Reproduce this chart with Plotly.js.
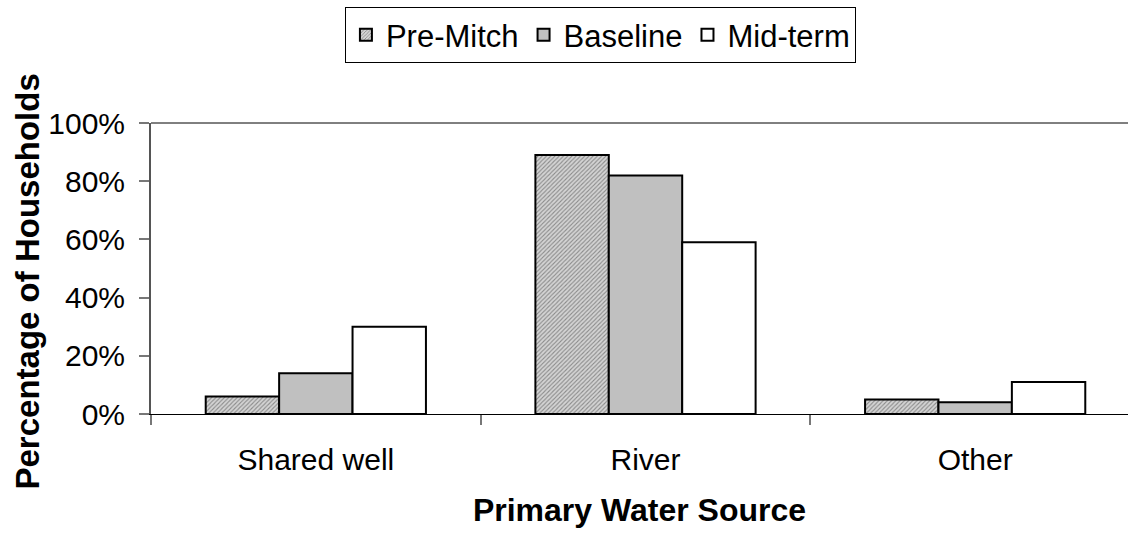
<!DOCTYPE html>
<html>
<head>
<meta charset="utf-8">
<script src="https://cdn.plot.ly/plotly-3.0.1.min.js"></script>
<style>html,body{margin:0;padding:0;background:#fff;}#chart{width:1128px;height:533px;}</style>
</head>
<body>
<div id="chart"></div>
<script>
const categories = ["Shared well", "River", "Other"];
const seriesNames = ["Pre-Mitch", "Baseline", "Mid-term"];
const preMitch = [0.06, 0.89, 0.05];
const baseline = [0.14, 0.82, 0.04];
const midTerm = [0.30, 0.59, 0.11];
const yTickVals = [0, 0.2, 0.4, 0.6, 0.8, 1.0];
const yTickText = ["0%", "20%", "40%", "60%", "80%", "100%"];
const yTitle = "Percentage of Households";
const xTitle = "Primary Water Source";

const FONT = "Arial, 'Liberation Sans', sans-serif";

const traces = [
  {
    type: "bar", name: seriesNames[0], x: categories, y: preMitch,
    marker: {
      color: "#c8c8c8",
      pattern: {shape: "/", size: 3, solidity: 0.35, fgcolor: "#8a8a8a", bgcolor: "#d4d4d4", fillmode: "replace"},
      line: {color: "#000", width: 2}
    },
    hoverinfo: "none"
  },
  {
    type: "bar", name: seriesNames[1], x: categories, y: baseline,
    marker: {color: "#c0c0c0", line: {color: "#000", width: 2}},
    hoverinfo: "none"
  },
  {
    type: "bar", name: seriesNames[2], x: categories, y: midTerm,
    marker: {color: "#ffffff", line: {color: "#000", width: 2}},
    hoverinfo: "none"
  }
];

const layout = {
  width: 1128, height: 533,
  paper_bgcolor: "#fff", plot_bgcolor: "#fff",
  margin: {l: 151, r: 0, t: 123, b: 119, pad: 0},
  font: {family: FONT, color: "#000", size: 30},
  barmode: "group",
  bargap: 0.332,
  bargroupgap: 0,
  showlegend: true,
  legend: {
    orientation: "h",
    x: 0.46, xanchor: "center",
    y: 1 - 7/533, yref: "container", yanchor: "top",
    bordercolor: "#000", borderwidth: 1,
    font: {family: FONT, size: 31, color: "#000"},
    itemwidth: 30,
    traceorder: "normal",
    tracegroupgap: 0
  },
  xaxis: {
    type: "category",
    range: [-0.5, 2.4636],
    showline: true, linecolor: "#000", linewidth: 1,
    ticks: "outside", ticklen: 10, tickcolor: "#777", tickwidth: 2,
    tickson: "boundaries",
    showgrid: false, zeroline: false,
    tickfont: {family: FONT, size: 30, color: "#000"},
    ticklabelstandoff: 19,
    title: {text: "<b>" + xTitle + "</b>", font: {family: FONT, size: 32, color: "#000"}, standoff: 23},
    fixedrange: true
  },
  yaxis: {
    range: [0, 1],
    tickvals: yTickVals, ticktext: yTickText,
    showline: true, linecolor: "#555", linewidth: 2,
    ticks: "outside", ticklen: 10, tickcolor: "#777", tickwidth: 2,
    showgrid: false, zeroline: false,
    tickfont: {family: FONT, size: 30, color: "#000"},
    ticklabelstandoff: 8,
    fixedrange: true
  },
  annotations: [
    {
      text: "<b>" + yTitle + "</b>", textangle: -90, showarrow: false,
      xref: "paper", yref: "paper",
      x: (27 - 151) / 977, xanchor: "center",
      y: (414 - 281.5) / 291, yanchor: "middle",
      font: {family: FONT, size: 33, color: "#000"}
    }
  ],
  shapes: [
    {type: "line", xref: "paper", yref: "paper", x0: 0, x1: 1, y0: 1, y1: 1, line: {color: "#000", width: 1}}
  ]
};

Plotly.newPlot("chart", traces, layout, {displayModeBar: false, staticPlot: true});
</script>
</body>
</html>
